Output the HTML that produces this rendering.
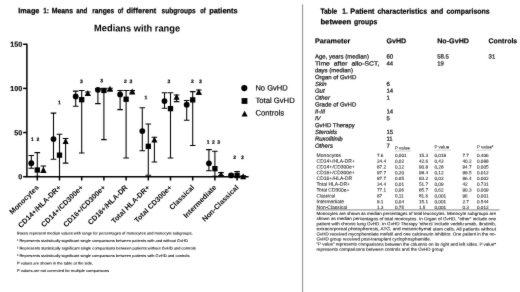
<!DOCTYPE html>
<html><head><meta charset="utf-8"><title>Image 1 / Table 1</title>
<style>
html,body{margin:0;padding:0;background:#fff;}
body{width:520px;height:292px;overflow:hidden;font-family:"Liberation Sans", sans-serif;}
svg{display:block;font-family:"Liberation Sans", sans-serif;filter:grayscale(1);}
</style></head><body>
<svg width="520" height="292" viewBox="0 0 520 292" text-rendering="geometricPrecision">
<defs><filter id="soft" x="0" y="0" width="100%" height="100%" color-interpolation-filters="sRGB"><feConvolveMatrix order="3" kernelMatrix="1 3 1 3 40 3 1 3 1" divisor="56" edgeMode="duplicate" preserveAlpha="true"/></filter></defs>
<rect width="520" height="292" fill="#fff"/>
<g filter="url(#soft)">
<rect width="520" height="292" fill="#fff"/>
<text x="18.3" y="13.3" font-size="7.7" transform="rotate(0.04 18.3 13.3)" font-weight="bold" textLength="21.1" lengthAdjust="spacingAndGlyphs" stroke="#000" stroke-width="0.22">Image</text>
<text x="43.2" y="13.3" font-size="7.7" transform="rotate(0.04 43.2 13.3)" font-weight="bold" textLength="5.7" lengthAdjust="spacingAndGlyphs" stroke="#000" stroke-width="0.22">1:</text>
<text x="51.7" y="13.3" font-size="7.7" transform="rotate(0.04 51.7 13.3)" font-weight="bold" textLength="21.5" lengthAdjust="spacingAndGlyphs" stroke="#000" stroke-width="0.22">Means</text>
<text x="76.3" y="13.3" font-size="7.7" transform="rotate(0.04 76.3 13.3)" font-weight="bold" textLength="11.0" lengthAdjust="spacingAndGlyphs" stroke="#000" stroke-width="0.22">and</text>
<text x="92.2" y="13.3" font-size="7.7" transform="rotate(0.04 92.2 13.3)" font-weight="bold" textLength="22.0" lengthAdjust="spacingAndGlyphs" stroke="#000" stroke-width="0.22">ranges</text>
<text x="117.8" y="13.3" font-size="7.7" transform="rotate(0.04 117.8 13.3)" font-weight="bold" textLength="5.4" lengthAdjust="spacingAndGlyphs" stroke="#000" stroke-width="0.22">of</text>
<text x="126.5" y="13.3" font-size="7.7" transform="rotate(0.04 126.5 13.3)" font-weight="bold" textLength="29.7" lengthAdjust="spacingAndGlyphs" stroke="#000" stroke-width="0.22">different</text>
<text x="161.5" y="13.3" font-size="7.7" transform="rotate(0.04 161.5 13.3)" font-weight="bold" textLength="34.2" lengthAdjust="spacingAndGlyphs" stroke="#000" stroke-width="0.22">subgroups</text>
<text x="200.3" y="13.3" font-size="7.7" transform="rotate(0.04 200.3 13.3)" font-weight="bold" textLength="5.4" lengthAdjust="spacingAndGlyphs" stroke="#000" stroke-width="0.22">of</text>
<text x="209.2" y="13.3" font-size="7.7" transform="rotate(0.04 209.2 13.3)" font-weight="bold" textLength="28.5" lengthAdjust="spacingAndGlyphs" stroke="#000" stroke-width="0.22">patients</text>
<text x="137.1" y="31.4" font-size="9.6" transform="rotate(0.04 137.1 31.4)" font-weight="bold" text-anchor="middle" textLength="86" lengthAdjust="spacingAndGlyphs">Medians with range</text>
<g stroke="#000" stroke-width="1.5" fill="none">
<path d="M26.9 43.65V176.7"/>
<path d="M26.299999999999997 176.7H248.6"/>
<path d="M23.099999999999998 176.7H26.9"/>
<path d="M23.099999999999998 132.55H26.9"/>
<path d="M23.099999999999998 88.4H26.9"/>
<path d="M23.099999999999998 44.25H26.9"/>
<path d="M37.3 176.7V180.5"/>
<path d="M59.5 176.7V180.5"/>
<path d="M81.7 176.7V180.5"/>
<path d="M103.9 176.7V180.5"/>
<path d="M126.1 176.7V180.5"/>
<path d="M148.3 176.7V180.5"/>
<path d="M170.5 176.7V180.5"/>
<path d="M192.7 176.7V180.5"/>
<path d="M214.9 176.7V180.5"/>
<path d="M237.1 176.7V180.5"/>
</g>
<text x="22.299999999999997" y="179.29999999999998" font-size="7.2" transform="rotate(0.04 22.299999999999997 179.29999999999998)" font-weight="bold" text-anchor="end" stroke="#000" stroke-width="0.15">0</text>
<text x="22.299999999999997" y="135.15" font-size="7.2" transform="rotate(0.04 22.299999999999997 135.15)" font-weight="bold" text-anchor="end" stroke="#000" stroke-width="0.15">50</text>
<text x="22.299999999999997" y="91.0" font-size="7.2" transform="rotate(0.04 22.299999999999997 91.0)" font-weight="bold" text-anchor="end" stroke="#000" stroke-width="0.15">100</text>
<text x="22.299999999999997" y="46.85" font-size="7.2" transform="rotate(0.04 22.299999999999997 46.85)" font-weight="bold" text-anchor="end" stroke="#000" stroke-width="0.15">150</text>
<text transform="translate(39.3 187.9) rotate(-45)" font-size="7.3" font-weight="bold" text-anchor="end">Monocytes</text>
<text transform="translate(61.5 187.9) rotate(-45)" font-size="7.3" font-weight="bold" text-anchor="end">CD14+/HLA-DR+</text>
<text transform="translate(83.7 187.9) rotate(-45)" font-size="7.3" font-weight="bold" text-anchor="end">CD14+/CD300e+</text>
<text transform="translate(105.9 187.9) rotate(-45)" font-size="7.3" font-weight="bold" text-anchor="end">CD16+/CD300e+</text>
<text transform="translate(128.1 187.9) rotate(-45)" font-size="7.3" font-weight="bold" text-anchor="end">CD16+/HLA-DR</text>
<text transform="translate(150.3 187.9) rotate(-45)" font-size="7.3" font-weight="bold" text-anchor="end">Total HLA-DR+</text>
<text transform="translate(172.5 187.9) rotate(-45)" font-size="7.3" font-weight="bold" text-anchor="end">Total CD300e+</text>
<text transform="translate(194.7 187.9) rotate(-45)" font-size="7.3" font-weight="bold" text-anchor="end">Classical</text>
<text transform="translate(216.9 187.9) rotate(-45)" font-size="7.3" font-weight="bold" text-anchor="end">Intermediate</text>
<text transform="translate(239.1 187.9) rotate(-45)" font-size="7.3" font-weight="bold" text-anchor="end">Non-Classical</text>
<g stroke="#000" stroke-width="1.05" fill="none">
<path d="M31.3 155.4V168.2M28.5 155.4H34.1M28.5 168.2H34.1"/>
<path d="M37.3 152.6V176.2M34.5 152.6H40.1M34.5 176.2H40.1"/>
<path d="M43.4 166.0V172.5M40.6 166.0H46.2M40.6 172.5H46.2"/>
<path d="M53.5 113.1V159.3M50.7 113.1H56.3M50.7 159.3H56.3"/>
<path d="M59.5 134.2V176.4M56.7 134.2H62.3M56.7 176.4H62.3"/>
<path d="M65.6 138.4V163.1M62.8 138.4H68.4M62.8 163.1H68.4"/>
<path d="M75.7 91.1V106.2M72.9 91.1H78.5M72.9 106.2H78.5"/>
<path d="M81.7 90.5V153.0M78.9 90.5H84.5M78.9 153.0H84.5"/>
<path d="M87.8 92.0V95.2M85.0 92.0H90.6M85.0 95.2H90.6"/>
<path d="M97.9 88.6V103.6M95.1 88.6H100.7M95.1 103.6H100.7"/>
<path d="M103.9 88.6V139.6M101.1 88.6H106.7M101.1 139.6H106.7"/>
<path d="M110.0 88.2V90.2M107.2 88.2H112.8M107.2 90.2H112.8"/>
<path d="M120.1 90.5V109.6M117.3 90.5H122.9M117.3 109.6H122.9"/>
<path d="M126.1 90.5V158.0M123.3 90.5H128.9M123.3 158.0H128.9"/>
<path d="M132.2 90.6V93.2M129.4 90.6H135.0M129.4 93.2H135.0"/>
<path d="M142.3 107.8V150.7M139.5 107.8H145.1M139.5 150.7H145.1"/>
<path d="M148.3 123.9V175.2M145.5 123.9H151.1M145.5 175.2H151.1"/>
<path d="M154.4 137.3V162.0M151.6 137.3H157.2M151.6 162.0H157.2"/>
<path d="M164.5 92.8V108.2M161.7 92.8H167.3M161.7 108.2H167.3"/>
<path d="M170.5 92.8V158.0M167.7 92.8H173.3M167.7 158.0H173.3"/>
<path d="M176.6 95.0V101.6M173.8 95.0H179.4M173.8 101.6H179.4"/>
<path d="M186.7 100.5V120.3M183.9 100.5H189.5M183.9 120.3H189.5"/>
<path d="M192.7 91.6V145.4M189.9 91.6H195.5M189.9 145.4H195.5"/>
<path d="M198.8 90.0V94.2M196.0 90.0H201.6M196.0 94.2H201.6"/>
<path d="M208.9 149.6V170.8M206.1 149.6H211.7M206.1 170.8H211.7"/>
<path d="M214.9 151.2V176.2M212.1 151.2H217.7M212.1 176.2H217.7"/>
<path d="M221.0 172.6V175.6M218.2 172.6H223.8M218.2 175.6H223.8"/>
<path d="M231.1 174.2V176.4M228.3 174.2H233.9M228.3 176.4H233.9"/>
<path d="M237.1 171.6V176.4M234.3 171.6H239.9M234.3 176.4H239.9"/>
<path d="M243.2 175.8V176.6M240.4 175.8H246.0M240.4 176.6H246.0"/>
</g>
<g fill="#000">
<circle cx="31.3" cy="163.19" r="2.9"/>
<rect x="34.65" y="167.34" width="5.3" height="5.3"/>
<path d="M43.4 166.8L46.45 172.7H40.35Z"/>
<circle cx="53.5" cy="139.08" r="2.9"/>
<rect x="56.85" y="152.5" width="5.3" height="5.3"/>
<path d="M65.6 138.1L68.65 144.0H62.55Z"/>
<circle cx="75.7" cy="96.52" r="2.9"/>
<rect x="79.05" y="97.05" width="5.3" height="5.3"/>
<path d="M87.8 89.98L90.85 95.88H84.75Z"/>
<circle cx="97.9" cy="89.81" r="2.9"/>
<rect x="101.25" y="87.78" width="5.3" height="5.3"/>
<path d="M110.0 85.74L113.05 91.64H106.95Z"/>
<circle cx="120.1" cy="94.4" r="2.9"/>
<rect x="123.45" y="96.61" width="5.3" height="5.3"/>
<path d="M132.2 88.48L135.25 94.38H129.15Z"/>
<circle cx="142.3" cy="131.05" r="2.9"/>
<rect x="145.65" y="143.67" width="5.3" height="5.3"/>
<path d="M154.4 136.51L157.45 142.41H151.35Z"/>
<circle cx="164.5" cy="101.03" r="2.9"/>
<rect x="167.85" y="105.97" width="5.3" height="5.3"/>
<path d="M176.6 93.87L179.65 99.77H173.55Z"/>
<circle cx="186.7" cy="104.65" r="2.9"/>
<rect x="190.05" y="97.23" width="5.3" height="5.3"/>
<path d="M198.8 88.83L201.85 94.73H195.75Z"/>
<circle cx="208.9" cy="163.37" r="2.9"/>
<rect x="212.25" y="166.01" width="5.3" height="5.3"/>
<path d="M221.0 171.22L224.05 177.12H217.95Z"/>
<circle cx="231.1" cy="175.38" r="2.9"/>
<rect x="234.45" y="172.9" width="5.3" height="5.3"/>
<path d="M243.2 173.34L246.25 179.24H240.15Z"/>
</g>
<text x="32.3" y="141.10000000000002" font-size="5.0" transform="rotate(0.04 32.3 141.10000000000002)" font-weight="bold" text-anchor="middle" stroke="#000" stroke-width="0.2">1</text>
<text x="38.0" y="141.10000000000002" font-size="5.0" transform="rotate(0.04 38.0 141.10000000000002)" font-weight="bold" text-anchor="middle" stroke="#000" stroke-width="0.2">2</text>
<text x="59.3" y="104.3" font-size="5.0" transform="rotate(0.04 59.3 104.3)" font-weight="bold" text-anchor="middle" stroke="#000" stroke-width="0.2">1</text>
<text x="81.3" y="82.89999999999999" font-size="5.0" transform="rotate(0.04 81.3 82.89999999999999)" font-weight="bold" text-anchor="middle" stroke="#000" stroke-width="0.2">3</text>
<text x="101.6" y="82.3" font-size="5.0" transform="rotate(0.04 101.6 82.3)" font-weight="bold" text-anchor="middle" stroke="#000" stroke-width="0.2">3</text>
<text x="125.4" y="82.89999999999999" font-size="5.0" transform="rotate(0.04 125.4 82.89999999999999)" font-weight="bold" text-anchor="middle" stroke="#000" stroke-width="0.2">2</text>
<text x="130.8" y="82.89999999999999" font-size="5.0" transform="rotate(0.04 130.8 82.89999999999999)" font-weight="bold" text-anchor="middle" stroke="#000" stroke-width="0.2">3</text>
<text x="145.8" y="99.3" font-size="5.0" transform="rotate(0.04 145.8 99.3)" font-weight="bold" text-anchor="middle" stroke="#000" stroke-width="0.2">1</text>
<text x="168.8" y="82.89999999999999" font-size="5.0" transform="rotate(0.04 168.8 82.89999999999999)" font-weight="bold" text-anchor="middle" stroke="#000" stroke-width="0.2">3</text>
<text x="192.4" y="82.89999999999999" font-size="5.0" transform="rotate(0.04 192.4 82.89999999999999)" font-weight="bold" text-anchor="middle" stroke="#000" stroke-width="0.2">2</text>
<text x="200.4" y="82.89999999999999" font-size="5.0" transform="rotate(0.04 200.4 82.89999999999999)" font-weight="bold" text-anchor="middle" stroke="#000" stroke-width="0.2">3</text>
<text x="208.2" y="143.70000000000002" font-size="5.0" transform="rotate(0.04 208.2 143.70000000000002)" font-weight="bold" text-anchor="middle" stroke="#000" stroke-width="0.2">1</text>
<text x="213.3" y="143.70000000000002" font-size="5.0" transform="rotate(0.04 213.3 143.70000000000002)" font-weight="bold" text-anchor="middle" stroke="#000" stroke-width="0.2">2</text>
<text x="218.6" y="143.70000000000002" font-size="5.0" transform="rotate(0.04 218.6 143.70000000000002)" font-weight="bold" text-anchor="middle" stroke="#000" stroke-width="0.2">3</text>
<text x="234.6" y="158.9" font-size="5.0" transform="rotate(0.04 234.6 158.9)" font-weight="bold" text-anchor="middle" stroke="#000" stroke-width="0.2">2</text>
<text x="242.4" y="158.9" font-size="5.0" transform="rotate(0.04 242.4 158.9)" font-weight="bold" text-anchor="middle" stroke="#000" stroke-width="0.2">3</text>
<circle cx="244.3" cy="88.1" r="3.1"/>
<rect x="241.60000000000002" y="98.1" width="5.8" height="5.8"/>
<path d="M244.60000000000002 110.8L247.70000000000002 116.4H241.5Z"/>
<text x="255.4" y="90.4" font-size="7.7" transform="rotate(0.04 255.4 90.4)" textLength="32.4" lengthAdjust="spacingAndGlyphs" stroke="#000" stroke-width="0.15">No GvHD</text>
<text x="255.4" y="102.9" font-size="7.7" transform="rotate(0.04 255.4 102.9)" textLength="39.3" lengthAdjust="spacingAndGlyphs" stroke="#000" stroke-width="0.15">Total GvHD</text>
<text x="255.4" y="115.6" font-size="7.7" transform="rotate(0.04 255.4 115.6)" textLength="28.8" lengthAdjust="spacingAndGlyphs" stroke="#000" stroke-width="0.15">Controls</text>
<text x="17" y="234.5" font-size="3.8" transform="rotate(0.04 17 234.5)" textLength="175.5" lengthAdjust="spacingAndGlyphs" stroke="#000" stroke-width="0.07">Boxes represent median values with range for percentages of monocytes and monocyte subgroups.</text>
<text x="17" y="242.0" font-size="3.8" transform="rotate(0.04 17 242.0)" textLength="171" lengthAdjust="spacingAndGlyphs" stroke="#000" stroke-width="0.07">¹ Represents statistically significant single comparisons between patients with and without GvHD</text>
<text x="17" y="249.5" font-size="3.8" transform="rotate(0.04 17 249.5)" textLength="178.7" lengthAdjust="spacingAndGlyphs" stroke="#000" stroke-width="0.07">² Represents statistically significant single comparisons between patients without GvHD and controls</text>
<text x="17" y="257.0" font-size="3.8" transform="rotate(0.04 17 257.0)" textLength="172.5" lengthAdjust="spacingAndGlyphs" stroke="#000" stroke-width="0.07">³ Represents statistically significant single comparisons between patients with GvHD and controls</text>
<text x="17" y="264.5" font-size="3.8" transform="rotate(0.04 17 264.5)" textLength="76" lengthAdjust="spacingAndGlyphs" stroke="#000" stroke-width="0.07">P values are shown in the table at the side.</text>
<text x="17" y="272.0" font-size="3.8" transform="rotate(0.04 17 272.0)" textLength="92" lengthAdjust="spacingAndGlyphs" stroke="#000" stroke-width="0.07">P values are not corrected for multiple comparisons</text>
<path d="M302.6 4.5V292" stroke="#777" stroke-width="0.85"/>
<text x="320.4" y="13.7" font-size="7.6" transform="rotate(0.04 320.4 13.7)" font-weight="bold" textLength="16.8" lengthAdjust="spacingAndGlyphs" stroke="#000" stroke-width="0.22">Table</text>
<text x="342.3" y="13.7" font-size="7.6" transform="rotate(0.04 342.3 13.7)" font-weight="bold" textLength="5.5" lengthAdjust="spacingAndGlyphs" stroke="#000" stroke-width="0.22">1.</text>
<text x="350.3" y="13.7" font-size="7.6" transform="rotate(0.04 350.3 13.7)" font-weight="bold" textLength="24.2" lengthAdjust="spacingAndGlyphs" stroke="#000" stroke-width="0.22">Patient</text>
<text x="377.4" y="13.7" font-size="7.6" transform="rotate(0.04 377.4 13.7)" font-weight="bold" textLength="49.8" lengthAdjust="spacingAndGlyphs" stroke="#000" stroke-width="0.22">characteristics</text>
<text x="430.7" y="13.7" font-size="7.6" transform="rotate(0.04 430.7 13.7)" font-weight="bold" textLength="12.5" lengthAdjust="spacingAndGlyphs" stroke="#000" stroke-width="0.22">and</text>
<text x="446.5" y="13.7" font-size="7.6" transform="rotate(0.04 446.5 13.7)" font-weight="bold" textLength="43.1" lengthAdjust="spacingAndGlyphs" stroke="#000" stroke-width="0.22">comparisons</text>
<text x="320.4" y="24.2" font-size="7.6" transform="rotate(0.04 320.4 24.2)" font-weight="bold" textLength="30.9" lengthAdjust="spacingAndGlyphs" stroke="#000" stroke-width="0.22">between</text>
<text x="354" y="24.2" font-size="7.6" transform="rotate(0.04 354 24.2)" font-weight="bold" textLength="23.2" lengthAdjust="spacingAndGlyphs" stroke="#000" stroke-width="0.22">groups</text>
<text x="314.9" y="43.3" font-size="7.1" transform="rotate(0.04 314.9 43.3)" font-weight="bold" textLength="35.5" lengthAdjust="spacingAndGlyphs" stroke="#000" stroke-width="0.15">Parameter</text>
<text x="386.4" y="43.3" font-size="7.1" transform="rotate(0.04 386.4 43.3)" font-weight="bold" textLength="19.8" lengthAdjust="spacingAndGlyphs" stroke="#000" stroke-width="0.15">GvHD</text>
<text x="437.2" y="43.3" font-size="7.1" transform="rotate(0.04 437.2 43.3)" font-weight="bold" textLength="31.8" lengthAdjust="spacingAndGlyphs" stroke="#000" stroke-width="0.15">No-GvHD</text>
<text x="488.6" y="43.3" font-size="7.1" transform="rotate(0.04 488.6 43.3)" font-weight="bold" textLength="28.6" lengthAdjust="spacingAndGlyphs" stroke="#000" stroke-width="0.15">Controls</text>
<text x="314.9" y="58.55" font-size="6.0" transform="rotate(0.04 314.9 58.55)" fill="#222" stroke="#222" stroke-width="0.24">Age, years (median)</text>
<text x="386.4" y="58.55" font-size="6.0" transform="rotate(0.04 386.4 58.55)" fill="#222" stroke="#222" stroke-width="0.24">60</text>
<text x="437.2" y="58.55" font-size="6.0" transform="rotate(0.04 437.2 58.55)" fill="#222" stroke="#222" stroke-width="0.24">58.5</text>
<text x="488.6" y="58.55" font-size="6.0" transform="rotate(0.04 488.6 58.55)" fill="#222" stroke="#222" stroke-width="0.24">31</text>
<text x="314.9" y="65.41" font-size="6.0" transform="rotate(0.04 314.9 65.41)" textLength="64.5" lengthAdjust="spacingAndGlyphs" fill="#222" stroke="#222" stroke-width="0.24" xml:space="preserve">Time  after  allo-SCT,</text>
<text x="386.4" y="65.41" font-size="6.0" transform="rotate(0.04 386.4 65.41)" fill="#222" stroke="#222" stroke-width="0.24">44</text>
<text x="437.2" y="65.41" font-size="6.0" transform="rotate(0.04 437.2 65.41)" fill="#222" stroke="#222" stroke-width="0.24">19</text>
<text x="314.9" y="72.27" font-size="6.0" transform="rotate(0.04 314.9 72.27)" fill="#222" stroke="#222" stroke-width="0.24">days (median)</text>
<text x="314.9" y="79.13" font-size="6.0" transform="rotate(0.04 314.9 79.13)" fill="#222" stroke="#222" stroke-width="0.24">Organ of GvHD</text>
<text x="314.9" y="85.99" font-size="6.0" transform="rotate(0.04 314.9 85.99)" font-style="italic" fill="#222" stroke="#222" stroke-width="0.24">Skin</text>
<text x="386.4" y="85.99" font-size="6.0" transform="rotate(0.04 386.4 85.99)" fill="#222" stroke="#222" stroke-width="0.24">6</text>
<text x="314.9" y="92.85" font-size="6.0" transform="rotate(0.04 314.9 92.85)" font-style="italic" fill="#222" stroke="#222" stroke-width="0.24">Gut</text>
<text x="386.4" y="92.85" font-size="6.0" transform="rotate(0.04 386.4 92.85)" fill="#222" stroke="#222" stroke-width="0.24">14</text>
<text x="314.9" y="99.71" font-size="6.0" transform="rotate(0.04 314.9 99.71)" font-style="italic" fill="#222" stroke="#222" stroke-width="0.24">Other</text>
<text x="386.4" y="99.71" font-size="6.0" transform="rotate(0.04 386.4 99.71)" fill="#222" stroke="#222" stroke-width="0.24">1</text>
<text x="314.9" y="106.57" font-size="6.0" transform="rotate(0.04 314.9 106.57)" fill="#222" stroke="#222" stroke-width="0.24">Grade of GvHD</text>
<text x="314.9" y="113.43" font-size="6.0" transform="rotate(0.04 314.9 113.43)" font-style="italic" fill="#222" stroke="#222" stroke-width="0.24">II-III</text>
<text x="386.4" y="113.43" font-size="6.0" transform="rotate(0.04 386.4 113.43)" fill="#222" stroke="#222" stroke-width="0.24">14</text>
<text x="314.9" y="120.29" font-size="6.0" transform="rotate(0.04 314.9 120.29)" font-style="italic" fill="#222" stroke="#222" stroke-width="0.24">IV</text>
<text x="386.4" y="120.29" font-size="6.0" transform="rotate(0.04 386.4 120.29)" fill="#222" stroke="#222" stroke-width="0.24">5</text>
<text x="314.9" y="127.15" font-size="6.0" transform="rotate(0.04 314.9 127.15)" fill="#222" stroke="#222" stroke-width="0.24">GvHD Therapy</text>
<text x="314.9" y="134.01" font-size="6.0" transform="rotate(0.04 314.9 134.01)" font-style="italic" fill="#222" stroke="#222" stroke-width="0.24">Steroids</text>
<text x="386.4" y="134.01" font-size="6.0" transform="rotate(0.04 386.4 134.01)" fill="#222" stroke="#222" stroke-width="0.24">15</text>
<text x="314.9" y="140.87" font-size="6.0" transform="rotate(0.04 314.9 140.87)" font-style="italic" fill="#222" stroke="#222" stroke-width="0.24">Ruxolitinib</text>
<text x="386.4" y="140.87" font-size="6.0" transform="rotate(0.04 386.4 140.87)" fill="#222" stroke="#222" stroke-width="0.24">11</text>
<text x="314.9" y="147.73" font-size="6.0" transform="rotate(0.04 314.9 147.73)" font-style="italic" fill="#222" stroke="#222" stroke-width="0.24">Others</text>
<text x="386.4" y="147.73" font-size="6.0" transform="rotate(0.04 386.4 147.73)" fill="#222" stroke="#222" stroke-width="0.24">7</text>
<text x="394.9" y="149.6" font-size="4.5" transform="rotate(0.04 394.9 149.6)" fill="#222" stroke="#222" stroke-width="0.07">P value</text>
<text x="434.4" y="148.6" font-size="4.5" transform="rotate(0.04 434.4 148.6)" fill="#222" stroke="#222" stroke-width="0.07">P value</text>
<text x="476.9" y="148.6" font-size="4.5" transform="rotate(0.04 476.9 148.6)" fill="#222" stroke="#222" stroke-width="0.07">P value*</text>
<g stroke="#777" stroke-width="0.5" stroke-dasharray="0.8 0.4"><path d="M394.9 151.0H411"/><path d="M434.4 150.2H451"/><path d="M476.9 150.2H491"/></g>
<text x="316.6" y="157.0" font-size="4.95" transform="rotate(0.04 316.6 157.0)" textLength="24.4" lengthAdjust="spacingAndGlyphs" fill="#222" stroke="#222" stroke-width="0.07">Monocytes</text>
<text x="376.9" y="157.0" font-size="4.7" transform="rotate(0.04 376.9 157.0)" fill="#222" stroke="#222" stroke-width="0.07">7.6</text>
<text x="394.9" y="157.0" font-size="4.7" transform="rotate(0.04 394.9 157.0)" fill="#222" stroke="#222" stroke-width="0.07">0,001</text>
<text x="418.9" y="157.0" font-size="4.7" transform="rotate(0.04 418.9 157.0)" fill="#222" stroke="#222" stroke-width="0.07">15.3</text>
<text x="434.4" y="157.0" font-size="4.7" transform="rotate(0.04 434.4 157.0)" fill="#222" stroke="#222" stroke-width="0.07">0,018</text>
<text x="462.4" y="157.0" font-size="4.7" transform="rotate(0.04 462.4 157.0)" fill="#222" stroke="#222" stroke-width="0.07">7.7</text>
<text x="476.9" y="157.0" font-size="4.7" transform="rotate(0.04 476.9 157.0)" fill="#222" stroke="#222" stroke-width="0.07">0.406</text>
<text x="316.6" y="162.77" font-size="4.95" transform="rotate(0.04 316.6 162.77)" textLength="38.2" lengthAdjust="spacingAndGlyphs" fill="#222" stroke="#222" stroke-width="0.07">CD14+/HLA-DR+</text>
<text x="376.9" y="162.77" font-size="4.7" transform="rotate(0.04 376.9 162.77)" fill="#222" stroke="#222" stroke-width="0.07">24.4</text>
<text x="394.9" y="162.77" font-size="4.7" transform="rotate(0.04 394.9 162.77)" fill="#222" stroke="#222" stroke-width="0.07">0,02</text>
<text x="418.9" y="162.77" font-size="4.7" transform="rotate(0.04 418.9 162.77)" fill="#222" stroke="#222" stroke-width="0.07">42.6</text>
<text x="434.4" y="162.77" font-size="4.7" transform="rotate(0.04 434.4 162.77)" fill="#222" stroke="#222" stroke-width="0.07">0,43</text>
<text x="462.4" y="162.77" font-size="4.7" transform="rotate(0.04 462.4 162.77)" fill="#222" stroke="#222" stroke-width="0.07">40.2</text>
<text x="476.9" y="162.77" font-size="4.7" transform="rotate(0.04 476.9 162.77)" fill="#222" stroke="#222" stroke-width="0.07">0.088</text>
<text x="316.6" y="168.54" font-size="4.95" transform="rotate(0.04 316.6 168.54)" textLength="38.2" lengthAdjust="spacingAndGlyphs" fill="#222" stroke="#222" stroke-width="0.07">CD14+/CD300e+</text>
<text x="376.9" y="168.54" font-size="4.7" transform="rotate(0.04 376.9 168.54)" fill="#222" stroke="#222" stroke-width="0.07">87.2</text>
<text x="394.9" y="168.54" font-size="4.7" transform="rotate(0.04 394.9 168.54)" fill="#222" stroke="#222" stroke-width="0.07">0,12</text>
<text x="418.9" y="168.54" font-size="4.7" transform="rotate(0.04 418.9 168.54)" fill="#222" stroke="#222" stroke-width="0.07">90.8</text>
<text x="434.4" y="168.54" font-size="4.7" transform="rotate(0.04 434.4 168.54)" fill="#222" stroke="#222" stroke-width="0.07">0,28</text>
<text x="462.4" y="168.54" font-size="4.7" transform="rotate(0.04 462.4 168.54)" fill="#222" stroke="#222" stroke-width="0.07">94.7</text>
<text x="476.9" y="168.54" font-size="4.7" transform="rotate(0.04 476.9 168.54)" fill="#222" stroke="#222" stroke-width="0.07">0.005</text>
<text x="316.6" y="174.31" font-size="4.95" transform="rotate(0.04 316.6 174.31)" textLength="38.2" lengthAdjust="spacingAndGlyphs" fill="#222" stroke="#222" stroke-width="0.07">CD16+/CD300e+</text>
<text x="376.9" y="174.31" font-size="4.7" transform="rotate(0.04 376.9 174.31)" fill="#222" stroke="#222" stroke-width="0.07">97.7</text>
<text x="394.9" y="174.31" font-size="4.7" transform="rotate(0.04 394.9 174.31)" fill="#222" stroke="#222" stroke-width="0.07">0,20</text>
<text x="418.9" y="174.31" font-size="4.7" transform="rotate(0.04 418.9 174.31)" fill="#222" stroke="#222" stroke-width="0.07">98.4</text>
<text x="434.4" y="174.31" font-size="4.7" transform="rotate(0.04 434.4 174.31)" fill="#222" stroke="#222" stroke-width="0.07">0,12</text>
<text x="462.4" y="174.31" font-size="4.7" transform="rotate(0.04 462.4 174.31)" fill="#222" stroke="#222" stroke-width="0.07">99.5</text>
<text x="476.9" y="174.31" font-size="4.7" transform="rotate(0.04 476.9 174.31)" fill="#222" stroke="#222" stroke-width="0.07">0.012</text>
<text x="316.6" y="180.08" font-size="4.95" transform="rotate(0.04 316.6 180.08)" textLength="35.5" lengthAdjust="spacingAndGlyphs" fill="#222" stroke="#222" stroke-width="0.07">CD16+/HLA-DR</text>
<text x="376.9" y="180.08" font-size="4.7" transform="rotate(0.04 376.9 180.08)" fill="#222" stroke="#222" stroke-width="0.07">87.7</text>
<text x="394.9" y="180.08" font-size="4.7" transform="rotate(0.04 394.9 180.08)" fill="#222" stroke="#222" stroke-width="0.07">0.05</text>
<text x="418.9" y="180.08" font-size="4.7" transform="rotate(0.04 418.9 180.08)" fill="#222" stroke="#222" stroke-width="0.07">93.2</text>
<text x="434.4" y="180.08" font-size="4.7" transform="rotate(0.04 434.4 180.08)" fill="#222" stroke="#222" stroke-width="0.07">0,03</text>
<text x="462.4" y="180.08" font-size="4.7" transform="rotate(0.04 462.4 180.08)" fill="#222" stroke="#222" stroke-width="0.07">96.4</text>
<text x="476.9" y="180.08" font-size="4.7" transform="rotate(0.04 476.9 180.08)" fill="#222" stroke="#222" stroke-width="0.07">0.002</text>
<text x="316.6" y="185.85" font-size="4.95" transform="rotate(0.04 316.6 185.85)" textLength="33.3" lengthAdjust="spacingAndGlyphs" fill="#222" stroke="#222" stroke-width="0.07">Total HLA-DR+</text>
<text x="376.9" y="185.85" font-size="4.7" transform="rotate(0.04 376.9 185.85)" fill="#222" stroke="#222" stroke-width="0.07">34.4</text>
<text x="394.9" y="185.85" font-size="4.7" transform="rotate(0.04 394.9 185.85)" fill="#222" stroke="#222" stroke-width="0.07">0,01</text>
<text x="418.9" y="185.85" font-size="4.7" transform="rotate(0.04 418.9 185.85)" fill="#222" stroke="#222" stroke-width="0.07">51.7</text>
<text x="434.4" y="185.85" font-size="4.7" transform="rotate(0.04 434.4 185.85)" fill="#222" stroke="#222" stroke-width="0.07">0,09</text>
<text x="462.4" y="185.85" font-size="4.7" transform="rotate(0.04 462.4 185.85)" fill="#222" stroke="#222" stroke-width="0.07">42</text>
<text x="476.9" y="185.85" font-size="4.7" transform="rotate(0.04 476.9 185.85)" fill="#222" stroke="#222" stroke-width="0.07">0.731</text>
<text x="316.6" y="191.62" font-size="4.95" transform="rotate(0.04 316.6 191.62)" textLength="32.7" lengthAdjust="spacingAndGlyphs" fill="#222" stroke="#222" stroke-width="0.07">Total CD300e+</text>
<text x="376.9" y="191.62" font-size="4.7" transform="rotate(0.04 376.9 191.62)" fill="#222" stroke="#222" stroke-width="0.07">77.1</text>
<text x="394.9" y="191.62" font-size="4.7" transform="rotate(0.04 394.9 191.62)" fill="#222" stroke="#222" stroke-width="0.07">0,06</text>
<text x="418.9" y="191.62" font-size="4.7" transform="rotate(0.04 418.9 191.62)" fill="#222" stroke="#222" stroke-width="0.07">85.7</text>
<text x="434.4" y="191.62" font-size="4.7" transform="rotate(0.04 434.4 191.62)" fill="#222" stroke="#222" stroke-width="0.07">0,62</text>
<text x="462.4" y="191.62" font-size="4.7" transform="rotate(0.04 462.4 191.62)" fill="#222" stroke="#222" stroke-width="0.07">90.3</text>
<text x="476.9" y="191.62" font-size="4.7" transform="rotate(0.04 476.9 191.62)" fill="#222" stroke="#222" stroke-width="0.07">0.009</text>
<text x="316.6" y="197.39" font-size="4.95" transform="rotate(0.04 316.6 197.39)" textLength="18.5" lengthAdjust="spacingAndGlyphs" fill="#222" stroke="#222" stroke-width="0.07">Classical</text>
<text x="376.9" y="197.39" font-size="4.7" transform="rotate(0.04 376.9 197.39)" fill="#222" stroke="#222" stroke-width="0.07">87</text>
<text x="394.9" y="197.39" font-size="4.7" transform="rotate(0.04 394.9 197.39)" fill="#222" stroke="#222" stroke-width="0.07">0,11</text>
<text x="418.9" y="197.39" font-size="4.7" transform="rotate(0.04 418.9 197.39)" fill="#222" stroke="#222" stroke-width="0.07">81.6</text>
<text x="434.4" y="197.39" font-size="4.7" transform="rotate(0.04 434.4 197.39)" fill="#222" stroke="#222" stroke-width="0.07">0,001</text>
<text x="462.4" y="197.39" font-size="4.7" transform="rotate(0.04 462.4 197.39)" fill="#222" stroke="#222" stroke-width="0.07">96</text>
<text x="476.9" y="197.39" font-size="4.7" transform="rotate(0.04 476.9 197.39)" fill="#222" stroke="#222" stroke-width="0.07">0.001</text>
<text x="316.6" y="203.16" font-size="4.95" transform="rotate(0.04 316.6 203.16)" textLength="27.4" lengthAdjust="spacingAndGlyphs" fill="#222" stroke="#222" stroke-width="0.07">Intermediate</text>
<text x="376.9" y="203.16" font-size="4.7" transform="rotate(0.04 376.9 203.16)" fill="#222" stroke="#222" stroke-width="0.07">9.1</text>
<text x="394.9" y="203.16" font-size="4.7" transform="rotate(0.04 394.9 203.16)" fill="#222" stroke="#222" stroke-width="0.07">0,04</text>
<text x="418.9" y="203.16" font-size="4.7" transform="rotate(0.04 418.9 203.16)" fill="#222" stroke="#222" stroke-width="0.07">15.1</text>
<text x="434.4" y="203.16" font-size="4.7" transform="rotate(0.04 434.4 203.16)" fill="#222" stroke="#222" stroke-width="0.07">0,001</text>
<text x="462.4" y="203.16" font-size="4.7" transform="rotate(0.04 462.4 203.16)" fill="#222" stroke="#222" stroke-width="0.07">2.7</text>
<text x="476.9" y="203.16" font-size="4.7" transform="rotate(0.04 476.9 203.16)" fill="#222" stroke="#222" stroke-width="0.07">0.544</text>
<text x="316.6" y="208.93" font-size="4.95" transform="rotate(0.04 316.6 208.93)" textLength="30.6" lengthAdjust="spacingAndGlyphs" fill="#222" stroke="#222" stroke-width="0.07">Non-Classical</text>
<text x="376.9" y="208.93" font-size="4.7" transform="rotate(0.04 376.9 208.93)" fill="#222" stroke="#222" stroke-width="0.07">1.3</text>
<text x="394.9" y="208.93" font-size="4.7" transform="rotate(0.04 394.9 208.93)" fill="#222" stroke="#222" stroke-width="0.07">0,75</text>
<text x="418.9" y="208.93" font-size="4.7" transform="rotate(0.04 418.9 208.93)" fill="#222" stroke="#222" stroke-width="0.07">1.5</text>
<text x="434.4" y="208.93" font-size="4.7" transform="rotate(0.04 434.4 208.93)" fill="#222" stroke="#222" stroke-width="0.07">0,001</text>
<text x="462.4" y="208.93" font-size="4.7" transform="rotate(0.04 462.4 208.93)" fill="#222" stroke="#222" stroke-width="0.07">0.3</text>
<text x="476.9" y="208.93" font-size="4.7" transform="rotate(0.04 476.9 208.93)" fill="#222" stroke="#222" stroke-width="0.07">0.012</text>
<path d="M316 209.9H499.5" stroke="#333" stroke-width="0.6"/>
<text x="316.5" y="215.0" font-size="4.4" transform="rotate(0.04 316.5 215.0)" textLength="179.5" lengthAdjust="spacingAndGlyphs" fill="#111" stroke="#111" stroke-width="0.08">Monocytes are shown as median percentages of total leucocytes. Monocyte subgroups are</text>
<text x="316.5" y="220.1" font-size="4.4" transform="rotate(0.04 316.5 220.1)" textLength="179.5" lengthAdjust="spacingAndGlyphs" fill="#111" stroke="#111" stroke-width="0.08">shown as median percentages of total monocytes. In Organ of GvHD, "other" include one</text>
<text x="316.5" y="225.2" font-size="4.4" transform="rotate(0.04 316.5 225.2)" textLength="179.5" lengthAdjust="spacingAndGlyphs" fill="#111" stroke="#111" stroke-width="0.08">patient with chronic lung GvHD. In GvHD Therapy 'others' include vedolizumab, ibrutinib,</text>
<text x="316.5" y="230.3" font-size="4.4" transform="rotate(0.04 316.5 230.3)" textLength="179.5" lengthAdjust="spacingAndGlyphs" fill="#111" stroke="#111" stroke-width="0.08">extracorporeal photopheresis, ATG, and mesenchymal stem cells. All patients without</text>
<text x="316.5" y="235.4" font-size="4.4" transform="rotate(0.04 316.5 235.4)" textLength="179.5" lengthAdjust="spacingAndGlyphs" fill="#111" stroke="#111" stroke-width="0.08">GvHD received mycophenolate mofetil and one calcineurin inhibitor. One patient in the no-</text>
<text x="316.5" y="240.5" font-size="4.4" transform="rotate(0.04 316.5 240.5)" textLength="114.5" lengthAdjust="spacingAndGlyphs" fill="#111" stroke="#111" stroke-width="0.08">GvHD group received post-transplant cyclophosphamide.</text>
<text x="316.5" y="245.6" font-size="4.4" transform="rotate(0.04 316.5 245.6)" textLength="179.5" lengthAdjust="spacingAndGlyphs" fill="#111" stroke="#111" stroke-width="0.08">"P value" represents comparisons between the columns on its right and left sides. P value*</text>
<text x="316.5" y="250.7" font-size="4.4" transform="rotate(0.04 316.5 250.7)" textLength="127" lengthAdjust="spacingAndGlyphs" fill="#111" stroke="#111" stroke-width="0.08">represents comparisons between controls and the GvHD group</text>
</g>
</svg>
</body></html>
